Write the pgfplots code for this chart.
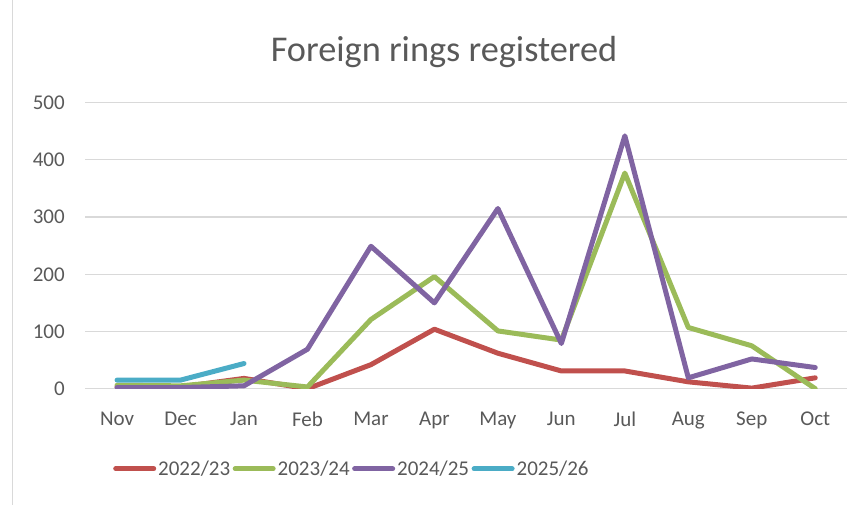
\documentclass[border=0pt]{standalone}
\usepackage{pgfplots}
\pgfplotsset{compat=1.18}
\usepackage{fontspec}
\setmainfont{Carlito}
\definecolor{cred}{HTML}{C0504D}
\definecolor{cgreen}{HTML}{9BBB59}
\definecolor{cpurple}{HTML}{8064A2}
\definecolor{ccyan}{HTML}{4BACC6}
\definecolor{cgrid}{HTML}{D9D9D9}
\definecolor{ctext}{HTML}{595959}
\begin{document}
\begin{tikzpicture}
\path[use as bounding box] (0pt,0pt) rectangle (857pt,505pt);
\draw[cgrid, line width=1.2pt] (12.5pt,0pt) -- (12.5pt,505pt);
\node[text=ctext, font=\fontsize{36.3}{41}\selectfont] at (444pt,453pt) {Foreign rings registered};
\begin{axis}[
  at={(85.3pt,116.3pt)}, anchor=south west,
  scale only axis, width=761.7pt, height=286pt,
  xmin=-0.5, xmax=11.5, ymin=0, ymax=500,
  xtick={0,...,11},
  xticklabels={Nov,Dec,Jan,Feb,Mar,Apr,May,Jun,Jul,Aug,Sep,Oct},
  ytick={0,100,...,500},
  axis line style={draw=none},
  major tick style={draw=none},
  ymajorgrids, grid style={cgrid, line width=1.2pt},
  tick label style={text=ctext, font=\fontsize{21}{24}\selectfont},
  /pgf/number format/assume math mode=true,
  yticklabel style={xshift=-17pt},
  xticklabel style={yshift=-20pt},
  every axis plot/.append style={line width=5pt, line join=round, line cap=round, mark=none},
  legend style={at={(0.35,-0.28)}, anchor=center, draw=none, legend columns=4,
    font=\fontsize{21}{24}\selectfont, text=ctext, fill=none,
    /tikz/every even column/.append style={column sep=0.5pt}},
  legend image code/.code={\draw[#1, line cap=round] (0pt,0pt) -- (38pt,0pt);},
]
\addplot[cred] coordinates {(0,3) (1,3) (2,18) (3,0) (4,42) (5,104) (6,62) (7,31) (8,31) (9,12) (10,1) (11,19)};
\addplot[cgreen] coordinates {(0,6) (1,5) (2,15) (3,3) (4,121) (5,196) (6,101) (7,85) (8,377) (9,107) (10,75) (11,0)};
\addplot[cpurple] coordinates {(0,2) (1,2) (2,5) (3,69) (4,249) (5,150) (6,315) (7,79) (8,442) (9,19) (10,52) (11,37)};
\addplot[ccyan] coordinates {(0,15) (1,15) (2,44)};
\legend{2022/23,2023/24,2024/25,2025/26}
\end{axis}
\end{tikzpicture}
\end{document}
